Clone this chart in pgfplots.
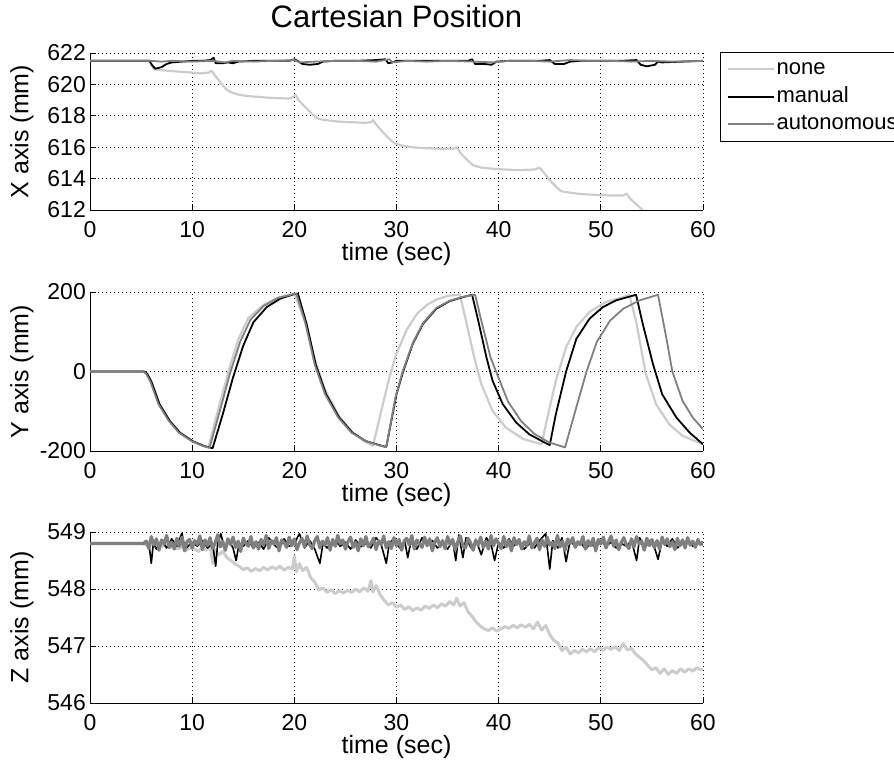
\documentclass[border=0pt]{standalone}
\usepackage{fontspec}
\setmainfont{Liberation Sans}
\usepackage{pgfplots}
\pgfplotsset{compat=1.18}

\definecolor{nonec}{RGB}{204,204,204}
\definecolor{autoc}{RGB}{128,128,128}

\pgfplotsset{
  mat/.style={
    scale only axis, width=613pt,
    xmin=0, xmax=60, xtick={0,10,...,60},
    axis x line=bottom, axis y line=left,
    axis line style={-, black, line width=0.8pt},
    tick align=inside, major tick length=6pt,
    tick style={black, line width=0.8pt},
    grid=major,
    major grid style={black, line width=0.8pt, dash pattern=on 0.8pt off 3.2pt},
    /pgf/number format/assume math mode=true,
    ticklabel style={font=\fontsize{23}{27}\selectfont},
    xticklabel style={inner sep=0pt, anchor=north},
    xticklabel shift=11pt,
    yticklabel style={inner sep=0pt, anchor=east},
    yticklabel shift=4pt,
    label style={font=\fontsize{25}{30}\selectfont, inner sep=0pt},
    xlabel={time (sec)},
    xlabel style={at={(axis description cs:0.5,0)}, anchor=north, yshift=-32pt},
    ylabel style={at={(axis description cs:-0.111,0.5)}, anchor=center},
    every axis plot/.append style={line join=round, mark=none},
  },
  pnone/.style={color=nonec, line width=2.2pt},
  pman/.style={color=black, line width=1.8pt},
  pauto/.style={color=autoc, line width=1.8pt},
}

\begin{document}
\begin{tikzpicture}
\useasboundingbox (0,0) rectangle (894pt,760pt);

% X position
\begin{axis}[mat, at={(90pt,550pt)}, anchor=south west, height=157pt,
  ymin=612, ymax=622, ytick={612,614,...,622},
  ylabel={X axis (mm)},
  title={Cartesian Position},
  title style={font=\fontsize{31}{37}\selectfont, at={(axis description cs:0.5,1)}, anchor=center, yshift=31pt, inner sep=0pt},
  legend style={at={(axis description cs:1.0277,1.006)}, anchor=north west,
    draw=black, line width=0.8pt, fill=white,
    font=\fontsize{22}{26}\selectfont, inner xsep=6.5pt, inner ysep=3pt,
    cells={anchor=west},
    nodes={inner xsep=1.5pt, inner ysep=4.25pt, text height=15pt, text depth=4pt}},
  legend image code/.code={\draw[#1] (0pt,0pt) -- (46pt,0pt);},
]
\addplot[pnone] coordinates {(0,621.5)(5.9,621.5)(6.2,621.0)(6.5,620.95)(7,620.9)(8,620.85)(9,620.8)(10,620.75)(11,620.7)(11.6,620.75)(11.9,620.87)(12.2,620.6)(12.8,620.1)(13.3,619.7)(13.8,619.5)(14.5,619.35)(15.5,619.25)(16.5,619.2)(17.5,619.15)(18.5,619.12)(19.5,619.1)(19.9,619.2)(20.1,619.35)(20.4,619.0)(21,618.6)(21.6,618.2)(22.2,617.85)(22.8,617.75)(24,617.65)(25,617.6)(26,617.58)(27,617.55)(27.5,617.6)(27.7,617.72)(28,617.45)(28.6,617.0)(29.2,616.6)(29.7,616.3)(30.5,616.1)(31.5,616.0)(32.5,615.95)(33.5,615.92)(34.5,615.9)(35.5,615.9)(35.9,616.0)(36.3,615.6)(36.9,615.2)(37.5,614.85)(38.3,614.7)(39.5,614.62)(40.5,614.58)(41.5,614.55)(42.5,614.55)(43.5,614.58)(44.0,614.7)(44.4,614.4)(45.0,613.9)(45.6,613.5)(46.1,613.2)(47,613.1)(48,613.02)(49,612.98)(50,612.95)(51,612.92)(52.2,612.92)(52.5,613.05)(52.9,612.7)(53.5,612.35)(54.1,612.0)(54.6,611.6)};
\addlegendentry{none}
\addplot[pman] coordinates {(0,621.5)(5.8,621.5)(6.1,621.2)(6.4,621.0)(7,621.1)(7.5,621.3)(8,621.4)(9,621.45)(10,621.5)(11,621.5)(11.8,621.55)(12.1,621.7)(12.3,621.35)(13,621.35)(13.5,621.4)(14,621.35)(14.5,621.45)(16,621.5)(18,621.5)(19.5,621.5)(20,621.6)(20.3,621.5)(20.8,621.3)(21.5,621.25)(22.3,621.3)(22.8,621.45)(24,621.5)(26,621.5)(28,621.55)(28.9,621.6)(29.2,621.35)(29.6,621.4)(30,621.5)(32,621.5)(35,621.5)(37,621.5)(37.4,621.6)(37.7,621.3)(38.6,621.3)(39.3,621.25)(39.8,621.45)(41,621.5)(44,621.5)(45,621.55)(45.5,621.3)(46.4,621.3)(47,621.45)(48,621.5)(50,621.5)(52,621.5)(53.5,621.55)(53.9,621.25)(54.5,621.15)(55.3,621.25)(55.6,621.45)(56,621.4)(58,621.45)(60,621.5)};
\addlegendentry{manual}
\addplot[pauto] coordinates {(0,621.5)(6,621.5)(7,621.45)(8,621.5)(10,621.45)(12,621.5)(13.2,621.4)(14,621.5)(16,621.45)(18,621.5)(20,621.55)(20.5,621.4)(22,621.45)(24,621.5)(26,621.5)(28,621.45)(29.3,621.6)(29.6,621.4)(31,621.5)(33,621.45)(35,621.5)(37.5,621.45)(39.5,621.4)(41,621.5)(43,621.5)(45,621.45)(47,621.55)(49,621.5)(51,621.5)(53,621.45)(55,621.5)(57,621.45)(60,621.5)};
\addlegendentry{autonomous}
\end{axis}

% Y position
\begin{axis}[mat, at={(90pt,309pt)}, anchor=south west, height=159pt,
  ymin=-200, ymax=200, ytick={-200,0,200},
  ylabel={Y axis (mm)},
]
\addplot[pnone] coordinates {(0,0)(5.3,0)(5.6,-6)(6.0,-25)(6.8,-82)(7.8,-124)(8.8,-154)(10.1,-176)(11.1,-187)(11.6,-191)(12.5,-100)(13.5,-5)(14.5,80)(15.5,135)(17,168)(18.4,186)(20.0,196)(21.0,130)(22.0,30)(23.0,-45)(24.3,-110)(25.6,-152)(26.8,-175)(27.7,-187)(28.5,-100)(29.3,-15)(30,45)(31,105)(32,145)(33,168)(34,182)(35,190)(36.2,194)(36.8,128)(37.6,36)(38.3,-32)(39.4,-99)(40.7,-141)(42.4,-170)(44.2,-183)(44.7,-124)(45.6,-23)(46.6,61)(47.6,112)(48.9,150)(50.5,175)(52.2,187)(52.8,193)(53.5,120)(54.4,-6)(55.4,-82)(56.7,-133)(58.0,-162)(60,-183)};
\addplot[pman] coordinates {(0,0)(5.3,0)(5.6,-6)(6.0,-25)(6.8,-82)(7.8,-124)(8.8,-154)(10.1,-176)(11.1,-187)(12.0,-193)(13.0,-107)(14.0,-15)(15.0,65)(16.0,124)(17.3,162)(18.6,183)(19.9,194)(20.35,196)(21.2,120)(22.1,17)(23.1,-57)(24.4,-116)(25.7,-154)(27.0,-175)(28.3,-185)(29.0,-190)(30.0,-57)(30.65,0)(31.6,70)(32.6,120)(33.9,158)(35.2,177)(36.5,187)(37.4,193)(38.0,128)(38.8,36)(39.4,-23)(40.4,-82)(41.7,-128)(43.0,-158)(44.3,-176)(45.0,-185)(45.6,-107)(46.6,0)(47.6,82)(48.9,133)(50.2,162)(51.5,179)(53.45,193)(54.1,120)(55.1,19)(56.0,-57)(57.4,-116)(58.7,-154)(60,-183)};
\addplot[pauto] coordinates {(0,0)(5.2,0)(5.5,-6)(5.9,-25)(6.7,-82)(7.7,-124)(8.7,-154)(10.0,-176)(11.0,-187)(11.7,-192)(12.7,-100)(13.7,-5)(14.7,75)(15.7,130)(17,165)(18.4,185)(19.8,194)(20.2,196)(21.1,120)(22.0,17)(23.0,-57)(24.3,-116)(25.6,-154)(27,-175)(28.3,-186)(29.0,-190)(29.9,-65)(30.6,0)(31.6,72)(32.6,122)(33.9,160)(35.2,178)(36.5,188)(37.7,193)(38.3,128)(39.2,36)(39.9,-10)(40.9,-75)(42.2,-125)(43.5,-157)(44.9,-178)(46.5,-191)(47.6,-90)(48.6,0)(49.6,74)(50.9,128)(52.2,158)(53.8,179)(55.6,193)(56.4,86)(57.0,0)(58.0,-74)(59.0,-116)(60,-145)};
\end{axis}

% Z position
\begin{axis}[mat, at={(90pt,57pt)}, anchor=south west, height=171pt,
  ymin=546, ymax=549, ytick={546,547,548,549},
  ylabel={Z axis (mm)},
]
\addplot[pnone, line width=3pt] coordinates {(0,548.8)(5,548.8)(5.4,548.78)(5.8,548.82)(6.2,548.76)(6.6,548.8)(7.0,548.74)(7.4,548.78)(7.8,548.72)(8.2,548.76)(8.6,548.7)(9.0,548.74)(9.4,548.68)(9.8,548.72)(10.2,548.7)(10.6,548.66)(11.0,548.72)(11.4,548.68)(11.8,548.74)(12.0,548.45)(12.2,548.7)(12.6,548.6)(13.0,548.66)(13.4,548.55)(13.8,548.5)(14.2,548.44)(14.6,548.4)(15.0,548.34)(15.4,548.37)(15.8,548.31)(16.2,548.36)(16.6,548.32)(17.0,548.38)(17.4,548.33)(17.8,548.39)(18.2,548.35)(18.6,548.4)(19.0,548.33)(19.4,548.38)(19.8,548.35)(20.0,548.58)(20.2,548.3)(20.5,548.45)(20.8,548.32)(21.2,548.38)(21.6,548.2)(22.0,548.12)(22.4,547.98)(22.8,548.02)(23.2,547.94)(23.6,547.99)(24.0,547.92)(24.4,547.97)(24.8,547.93)(25.2,547.98)(25.6,547.94)(26.0,548.0)(26.4,547.95)(26.8,548.02)(27.2,547.96)(27.5,548.15)(27.7,547.95)(28.0,548.06)(28.4,547.9)(28.8,547.8)(29.2,547.72)(29.6,547.76)(30.0,547.68)(30.4,547.72)(30.8,547.64)(31.2,547.69)(31.6,547.62)(32.0,547.67)(32.4,547.63)(32.8,547.7)(33.2,547.66)(33.6,547.72)(34.0,547.67)(34.4,547.74)(34.8,547.7)(35.2,547.78)(35.6,547.72)(35.9,547.84)(36.2,547.7)(36.6,547.76)(37.0,547.6)(37.4,547.52)(37.8,547.42)(38.2,547.35)(38.6,547.3)(39.0,547.27)(39.4,547.32)(39.8,547.26)(40.2,547.3)(40.6,547.34)(41.0,547.31)(41.4,547.36)(41.8,547.32)(42.2,547.37)(42.6,547.33)(43.0,547.38)(43.4,547.3)(43.8,547.42)(44.2,547.28)(44.6,547.36)(45.0,547.2)(45.4,547.1)(45.8,547.05)(46.2,546.92)(46.6,546.98)(47.0,546.86)(47.4,546.92)(47.8,546.88)(48.2,546.94)(48.6,546.9)(49.0,546.95)(49.4,546.9)(49.8,546.97)(50.2,546.93)(50.6,546.98)(51.0,546.94)(51.4,546.99)(51.8,546.92)(52.2,547.04)(52.6,546.93)(53.0,546.96)(53.4,546.86)(53.8,546.8)(54.2,546.74)(54.6,546.66)(55.0,546.58)(55.4,546.62)(55.8,546.52)(56.2,546.6)(56.6,546.5)(57.0,546.57)(57.4,546.52)(57.8,546.6)(58.2,546.54)(58.6,546.6)(59.0,546.56)(59.4,546.62)(59.8,546.58)(60,546.6)};
\addplot[pman, line width=1.6pt] coordinates {(0,548.8)(5.5,548.8)(5.8,548.75)(6.0,548.45)(6.2,548.8)(6.5,548.7)(7,548.85)(7.5,548.72)(8,548.88)(8.5,548.75)(9,548.98)(9.3,548.7)(10,548.82)(10.5,548.75)(11,548.85)(11.5,548.72)(12,548.8)(12.3,548.4)(12.5,548.8)(12.8,548.97)(13.2,548.7)(13.6,548.85)(14,548.72)(14.3,548.5)(14.6,548.8)(15,548.75)(15.5,548.85)(16,548.72)(16.5,548.82)(17,548.7)(17.5,548.9)(18,548.78)(18.5,548.7)(19,548.88)(19.5,548.75)(20,548.8)(20.5,548.97)(21,548.72)(21.5,548.85)(22,548.7)(22.5,548.45)(22.8,548.8)(23.2,548.72)(24,548.85)(24.5,548.75)(25,548.82)(25.5,548.7)(26,548.86)(26.5,548.74)(27,548.8)(27.5,548.72)(28,548.9)(28.5,548.78)(29,548.45)(29.3,548.8)(29.8,548.9)(30.3,548.72)(30.8,548.85)(31.1,548.55)(31.4,548.82)(32,548.7)(32.5,548.9)(33,548.76)(33.5,548.85)(34,548.72)(34.5,548.8)(35,548.7)(35.5,548.85)(35.8,548.5)(36.1,548.95)(36.5,548.55)(36.8,548.9)(37.3,548.72)(37.8,548.85)(38.3,548.6)(38.8,548.9)(39.3,548.75)(39.6,548.5)(40,548.82)(40.5,548.72)(41,548.88)(41.5,548.76)(42,548.85)(42.5,548.7)(43,548.8)(43.5,548.72)(44,548.85)(44.6,548.97)(45.0,548.35)(45.3,548.85)(45.8,548.72)(46.2,548.9)(46.6,548.48)(47,548.85)(47.5,548.74)(48,548.82)(48.5,548.7)(49,548.8)(49.5,548.72)(50,548.85)(50.5,548.75)(51,548.82)(51.5,548.72)(52,548.8)(52.5,548.75)(53,548.85)(53.5,548.5)(53.8,548.9)(54.3,548.72)(54.8,548.85)(55.3,548.7)(55.6,548.52)(56,548.85)(56.5,548.75)(57,548.88)(57.5,548.72)(58,548.8)(58.5,548.85)(59,548.75)(59.5,548.8)(60,548.78)};
\addplot[pauto, line width=3.2pt] coordinates {(0,548.8)(5.25,548.8)
(5.5,548.84)(5.75,548.71)(6,548.92)(6.25,548.77)(6.5,548.88)(6.75,548.68)(7,548.86)(7.25,548.79)(7.5,548.94)(7.75,548.73)(8,548.82)(8.25,548.70)(8.5,548.89)(8.75,548.75)(9,548.91)(9.25,548.67)(9.5,548.83)(9.75,548.87)(10,548.72)(10.25,548.85)
(10.5,548.78)(10.75,548.93)(11,548.69)(11.25,548.86)(11.5,548.76)(11.75,548.90)(12,548.71)(12.25,548.81)(12.5,548.95)(12.75,548.74)(13,548.83)(13.25,548.68)(13.5,548.88)(13.75,548.78)(14,548.91)(14.25,548.73)(14.5,548.84)(14.75,548.66)(15,548.89)(15.25,548.80)
(15.5,548.75)(15.75,548.92)(16,548.72)(16.25,548.83)(16.5,548.70)(16.75,548.87)(17,548.77)(17.25,548.94)(17.5,548.71)(17.75,548.85)(18,548.79)(18.25,548.90)(18.5,548.67)(18.75,548.86)(19,548.82)(19.25,548.73)(19.5,548.91)(19.75,548.76)(20,548.88)(20.25,548.69)
(20.5,548.81)(20.75,548.89)(21,548.74)(21.25,548.93)(21.5,548.78)(21.75,548.71)(22,548.85)(22.25,548.92)(22.5,548.72)(22.75,548.84)(23,548.77)(23.25,548.90)(23.5,548.68)(23.75,548.87)(24,548.75)(24.25,548.94)(24.5,548.79)(24.75,548.86)(25,548.70)(25.25,548.83)
(25.5,548.91)(25.75,548.73)(26,548.82)(26.25,548.67)(26.5,548.88)(26.75,548.76)(27,548.92)(27.25,548.74)(27.5,548.80)(27.75,548.89)(28,548.69)(28.25,548.85)(28.5,548.78)(28.75,548.93)(29,548.72)(29.25,548.83)(29.5,548.71)(29.75,548.90)(30,548.75)(30.25,548.87)
(30.5,548.68)(30.75,548.84)(31,548.89)(31.25,548.77)(31.5,548.94)(31.75,548.70)(32,548.86)(32.25,548.79)(32.5,548.73)(32.75,548.91)(33,548.76)(33.25,548.88)(33.5,548.67)(33.75,548.82)(34,548.90)(34.25,548.74)(34.5,548.85)(34.75,548.71)(35,548.92)(35.25,548.78)
(35.5,548.87)(35.75,548.69)(36,548.83)(36.25,548.93)(36.5,548.75)(36.75,548.72)(37,548.89)(37.25,548.81)(37.5,548.68)(37.75,548.86)(38,548.77)(38.25,548.91)(38.5,548.73)(38.75,548.84)(39,548.70)(39.25,548.94)(39.5,548.76)(39.75,548.88)(40,548.79)(40.25,548.71)
(40.5,548.92)(40.75,548.74)(41,548.85)(41.25,548.67)(41.5,548.90)(41.75,548.78)(42,548.87)(42.25,548.70)(42.5,548.83)(42.75,548.76)(43,548.93)(43.25,548.72)(43.5,548.81)(43.75,548.89)(44,548.69)(44.25,548.86)(44.5,548.75)(44.75,548.91)(45,548.77)(45.25,548.82)
(45.5,548.71)(45.75,548.94)(46,548.74)(46.25,548.84)(46.5,548.68)(46.75,548.88)(47,548.80)(47.25,548.90)(47.5,548.73)(47.75,548.83)(48,548.78)(48.25,548.92)(48.5,548.70)(48.75,548.85)(49,548.76)(49.25,548.89)(49.5,548.67)(49.75,548.87)(50,548.79)(50.25,548.91)
(50.5,548.72)(50.75,548.83)(51,548.93)(51.25,548.75)(51.5,548.86)(51.75,548.69)(52,548.82)(52.25,548.90)(52.5,548.77)(52.75,548.71)(53,548.88)(53.25,548.74)(53.5,548.92)(53.75,548.79)(54,548.84)(54.25,548.68)(54.5,548.89)(54.75,548.76)(55,548.87)(55.25,548.73)
(55.5,548.85)(55.75,548.70)(56,548.91)(56.25,548.78)(56.5,548.88)(56.75,548.74)(57,548.83)(57.25,548.69)(57.5,548.89)(57.75,548.76)(58,548.86)(58.25,548.72)(58.5,548.90)(58.75,548.77)(59,548.84)(59.25,548.73)(59.5,548.87)(59.75,548.78)(60,548.83)};
\end{axis}
\end{tikzpicture}
\end{document}
